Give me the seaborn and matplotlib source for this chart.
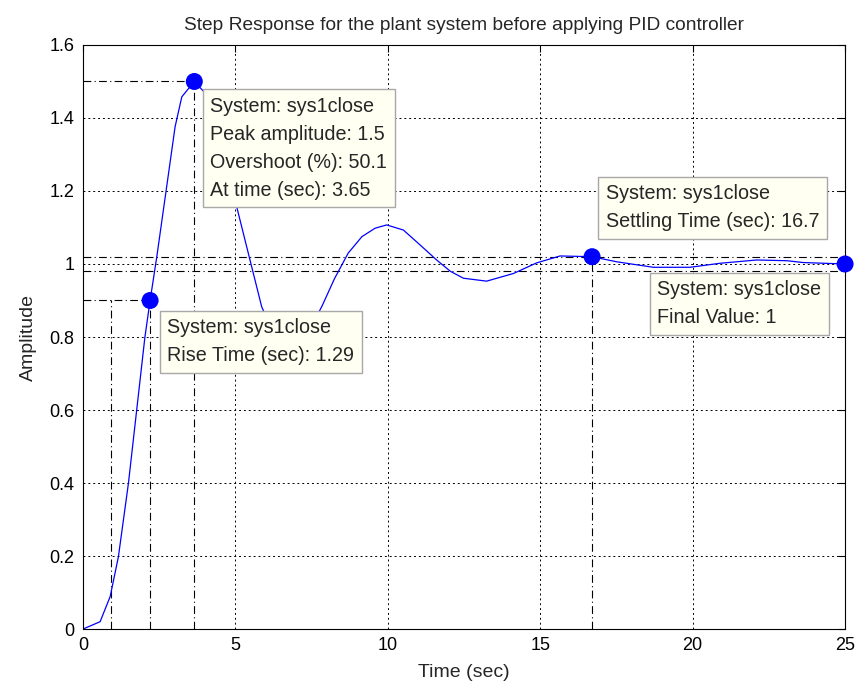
import pandas as pd
import matplotlib
matplotlib.use("Agg")
import matplotlib.pyplot as plt
import seaborn as sns

# step response
time_s = [0, 0.56, 0.89, 1.16, 1.49, 1.76, 2.03, 2.2, 2.42, 2.69, 3.02, 3.24, 3.65,
          4.1, 4.6, 5.04, 5.42, 5.86, 6.3, 6.8, 7.3, 7.83, 8.25, 8.7, 9.15, 9.58,
          9.96, 10.51, 11.06, 11.6, 12.05, 12.48, 13.24, 14.12, 14.88, 15.65, 16.7,
          17.51, 18.71, 19.91, 20.9, 22.1, 23.09, 23.62, 25]
amplitude = [0, 0.02, 0.089, 0.198, 0.40, 0.60, 0.80, 0.90, 1.02, 1.18, 1.376, 1.458, 1.50,
             1.46, 1.33, 1.157, 1.03, 0.883, 0.80, 0.77, 0.80, 0.883, 0.96, 1.03, 1.075, 1.098,
             1.107, 1.093, 1.052, 1.011, 0.98, 0.961, 0.953, 0.974, 1.003, 1.022, 1.02,
             1.006, 0.991, 0.991, 1.002, 1.011, 1.009, 1.004, 1.0]

# characteristic points
marker_t = [2.2, 3.65, 16.7, 25]
marker_y = [0.9, 1.5, 1.02, 1.0]
rise_start = 0.91
settle_band = [1.02, 0.98]

x_ticks = [0, 5, 10, 15, 20, 25]
y_ticks = [0, 0.2, 0.4, 0.6, 0.8, 1.0, 1.2, 1.4, 1.6]
y_labels = ["0", "0.2", "0.4", "0.6", "0.8", "1", "1.2", "1.4", "1.6"]

tips = [
    (4.17, 1.458, "System: sys1close\nPeak amplitude: 1.5\nOvershoot (%): 50.1\nAt time (sec): 3.65"),
    (2.76, 0.852, "System: sys1close\nRise Time (sec): 1.29"),
    (17.15, 1.218, "System: sys1close\nSettling Time (sec): 16.7"),
    (18.84, 0.955, "System: sys1close\nFinal Value: 1"),
]

df = pd.DataFrame({"t": time_s, "y": amplitude})
pts = pd.DataFrame({"t": marker_t, "y": marker_y})

sns.set_style("white")
plt.rcParams["font.family"] = ["Liberation Sans", "DejaVu Sans"]

fig = plt.figure(figsize=(8.57, 6.91), dpi=100)
ax = fig.add_axes([0.0969, 0.0897, 0.8892, 0.8452])

# grid
for xv in x_ticks[1:-1]:
    ax.axvline(xv, color="black", lw=0.7, ls=(0, (2, 3)), zorder=1)
for yv in y_ticks[1:-1]:
    ax.axhline(yv, color="black", lw=0.7, ls=(0, (2, 3)), zorder=1)

# reference lines
dd = (0, (7, 3, 1, 3))
kw = dict(color="black", lw=0.8, ls=dd, zorder=1.5)
ax.plot([0, marker_t[1]], [marker_y[1]] * 2, **kw)
ax.plot([marker_t[1]] * 2, [0, marker_y[1]], **kw)
ax.plot([0, marker_t[0]], [marker_y[0]] * 2, **kw)
ax.plot([marker_t[0]] * 2, [0, marker_y[0]], **kw)
ax.plot([rise_start] * 2, [0, marker_y[0]], **kw)
ax.plot([marker_t[2]] * 2, [0, marker_y[2]], **kw)
for b in settle_band:
    ax.plot([0, 25], [b, b], **kw)

sns.lineplot(data=df, x="t", y="y", sort=False, estimator=None, color="#0000ff",
             lw=0.9, ax=ax, zorder=2)
sns.scatterplot(data=pts, x="t", y="y", color="#0000ff", s=150, edgecolor="none",
                ax=ax, zorder=3, clip_on=False)

for tx, ty, txt in tips:
    ax.text(tx, ty, txt, fontsize=14.2, va="top", ha="left", linespacing=1.6, zorder=5,
            bbox=dict(boxstyle="square,pad=0.38", fc="#fffff2", ec="#a8a8a8", lw=1))

ax.set_xlim(0, 25)
ax.set_ylim(0, 1.6)
ax.set_xticks(x_ticks)
ax.set_xticklabels([str(v) for v in x_ticks])
ax.set_yticks(y_ticks)
ax.set_yticklabels(y_labels)
ax.tick_params(direction="in", length=5, width=0.8, labelsize=13, top=True, right=True,
               pad=6, colors="black")
for s in ax.spines.values():
    s.set_color("black")
    s.set_linewidth(0.8)

ax.set_title("Step Response for the plant system before applying PID controller",
             fontsize=13.8, pad=11)
ax.set_xlabel("Time (sec)", fontsize=14, labelpad=7)
ax.set_ylabel("Amplitude", fontsize=14, labelpad=9)

fig.savefig("out.png", dpi=100, facecolor="white")
